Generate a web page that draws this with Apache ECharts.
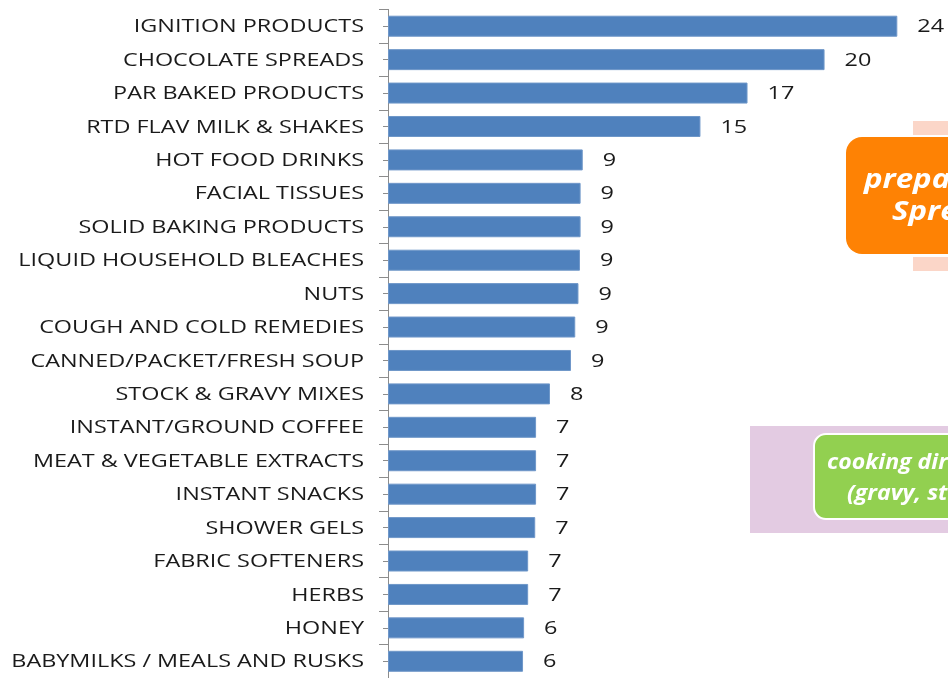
<!DOCTYPE html>
<html>
<head>
<meta charset="utf-8">
<script src="https://cdn.jsdelivr.net/npm/echarts@6/dist/echarts.min.js"></script>
<style>
  html, body { margin: 0; padding: 0; background: #ffffff; }
  #chart { width: 948px; height: 678px; }
</style>
</head>
<body>
<div id="chart"></div>
<script>
// Product categories, top to bottom
const categories = [
  'IGNITION PRODUCTS',
  'CHOCOLATE SPREADS',
  'PAR BAKED PRODUCTS',
  'RTD FLAV MILK & SHAKES',
  'HOT FOOD DRINKS',
  'FACIAL TISSUES',
  'SOLID BAKING PRODUCTS',
  'LIQUID HOUSEHOLD BLEACHES',
  'NUTS',
  'COUGH AND COLD REMEDIES',
  'CANNED/PACKET/FRESH SOUP',
  'STOCK & GRAVY MIXES',
  'INSTANT/GROUND COFFEE',
  'MEAT & VEGETABLE EXTRACTS',
  'INSTANT SNACKS',
  'SHOWER GELS',
  'FABRIC SOFTENERS',
  'HERBS',
  'HONEY',
  'BABYMILKS / MEALS AND RUSKS'
];

// Values per category (labels show them rounded to whole numbers)
const values = [
  23.8, 20.4, 16.8, 14.6, 9.1, 9.0, 9.0, 8.97, 8.9, 8.75, 8.55,
  7.57, 6.92, 6.92, 6.92, 6.88, 6.55, 6.55, 6.36, 6.31
];

// Callout texts
const calloutOrange = ['preparations like Chocolate', 'Spreads'];
const calloutGreen = ['cooking directions', '(gravy, stock)'];

// Wide-set lettering used for all chart text
const LABEL_FONT = '18px "Open Sans"';
const STRETCH = 1.3;

const chart = echarts.init(document.getElementById('chart'));

const catAxisBase = {
  type: 'category',
  data: categories,
  inverse: true,
  axisLine: { show: true, lineStyle: { color: '#8c8c8c', width: 1 } },
  axisLabel: { show: false },
  splitLine: { show: false }
};

chart.setOption({
  animation: false,
  grid: { left: 388, top: 9.5, width: 556.4, height: 672.6, containLabel: false },
  xAxis: { type: 'value', min: 0, max: 26, show: false },
  yAxis: [
    Object.assign({}, catAxisBase, {
      axisTick: { show: true, alignWithLabel: false, length: 9, lineStyle: { color: '#8c8c8c' } }
    }),
    Object.assign({}, catAxisBase, {
      position: 'left',
      axisTick: { show: true, alignWithLabel: true, length: 5, lineStyle: { color: '#8c8c8c' } }
    })
  ],
  series: [
    {
      type: 'bar',
      data: values,
      yAxisIndex: 0,
      barWidth: 21,
      itemStyle: { color: '#4f81bd', borderColor: '#6f97c9', borderWidth: 1 }
    },
    {
      // category names and value labels, horizontally stretched
      type: 'custom',
      yAxisIndex: 0,
      clip: false,
      z: 5,
      data: values.map((v, i) => [v, i]),
      encode: { x: 0, y: 1 },
      renderItem: (params, api) => {
        const v = api.value(0);
        const idx = api.value(1);
        const base = api.coord([0, idx]);
        const end = api.coord([v, idx]);
        return {
          type: 'group',
          children: [
            {
              type: 'text', x: base[0] - 24, y: base[1] + 1, scaleX: STRETCH,
              style: { text: categories[params.dataIndex], font: LABEL_FONT, fill: '#1a1a1a',
                       align: 'right', verticalAlign: 'middle' }
            },
            {
              type: 'text', x: end[0] + 20, y: end[1] + 1, scaleX: STRETCH,
              style: { text: String(Math.round(v)), font: LABEL_FONT, fill: '#1a1a1a',
                       align: 'left', verticalAlign: 'middle' }
            }
          ]
        };
      }
    }
  ],
  graphic: [
    // peach strips behind the orange callout
    { type: 'rect', shape: { x: 913, y: 121, width: 60, height: 14 }, style: { fill: '#fbd6c8' }, z: 10 },
    { type: 'rect', shape: { x: 913, y: 257, width: 60, height: 14 }, style: { fill: '#fbd6c8' }, z: 10 },
    // orange callout
    { type: 'rect', shape: { x: 846, y: 137, width: 240, height: 117, r: 16 },
      style: { fill: '#fe8204' }, z: 11 },
    { type: 'text', x: 864, y: 181, scaleX: 1.2, z: 12,
      style: { text: calloutOrange[0], fill: '#ffffff', font: 'italic bold 26px "Open Sans"', verticalAlign: 'middle' } },
    { type: 'text', x: 892, y: 213, scaleX: 1.2, z: 12,
      style: { text: calloutOrange[1], fill: '#ffffff', font: 'italic bold 26px "Open Sans"', verticalAlign: 'middle' } },
    // lavender panel with green callout
    { type: 'rect', shape: { x: 750, y: 426, width: 220, height: 107 }, style: { fill: '#e3cbe2' }, z: 10 },
    { type: 'rect', shape: { x: 814, y: 434, width: 240, height: 85, r: 12 },
      style: { fill: '#92d050', stroke: '#ffffff', lineWidth: 2 }, z: 11 },
    { type: 'text', x: 827, y: 463, scaleX: 1.1, z: 12,
      style: { text: calloutGreen[0], fill: '#ffffff', font: 'italic bold 21px "Open Sans"', verticalAlign: 'middle' } },
    { type: 'text', x: 847, y: 494, scaleX: 1.1, z: 12,
      style: { text: calloutGreen[1], fill: '#ffffff', font: 'italic bold 21px "Open Sans"', verticalAlign: 'middle' } }
  ]
});
</script>
</body>
</html>
